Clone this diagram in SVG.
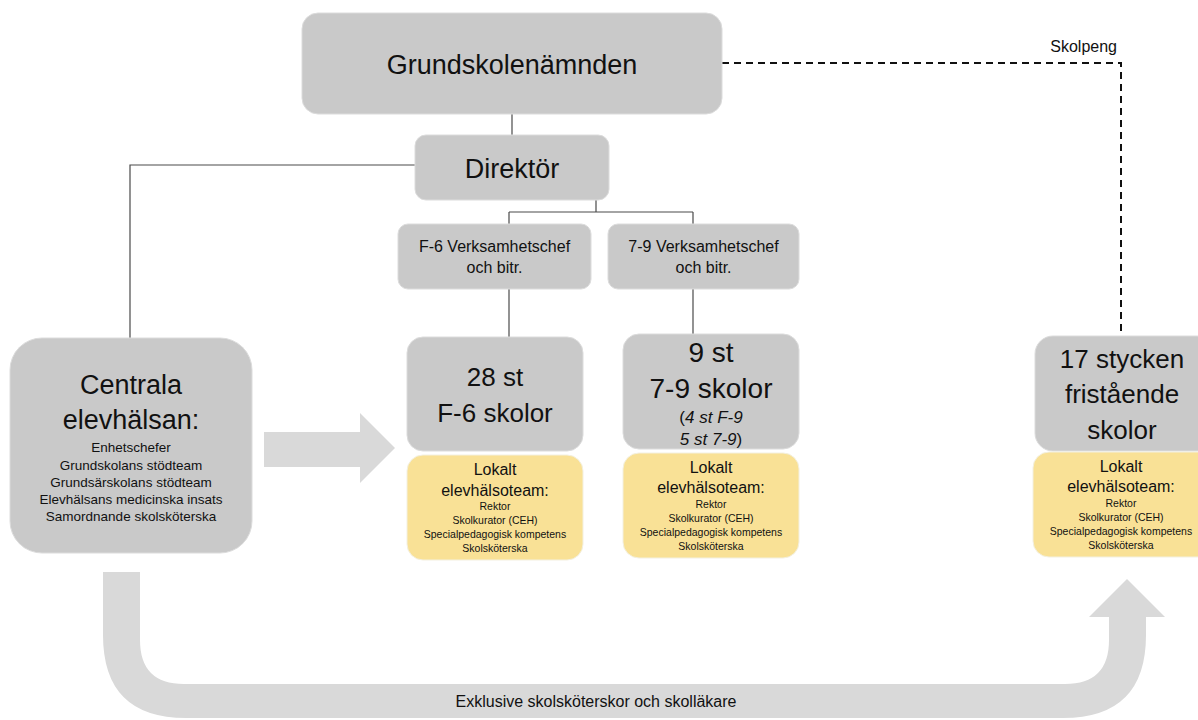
<svg xmlns="http://www.w3.org/2000/svg" width="1198" height="720" viewBox="0 0 1198 720">
<style>
text{font-family:"Liberation Sans",Arial,sans-serif;fill:#111;text-anchor:middle}
.g{fill:#c9c9c9;stroke:#dcdcdc;stroke-width:1}
.y{fill:#f9e196;stroke:#f3f0e0;stroke-width:1}
.ln{stroke:#4a4a4a;stroke-width:1.2;fill:none}
.ds{stroke:#111;stroke-width:2;stroke-dasharray:7,5;fill:none}
.big{fill:#d9d9d9}
.s{font-size:10.5px}
.m{font-size:16px}
</style>
<rect width="1198" height="720" fill="#fff"/>
<g id="connectors">
<path class="ln" d="M512,114 V135"/>
<path class="ln" d="M415,165 H130 V338"/>
<path class="ln" d="M596,200 V212 M509,212 H693 M509,212 V224 M693,212 V224"/>
<path class="ln" d="M509,289 V337"/>
<path class="ln" d="M693,289 V334"/>
<path class="ds" d="M722,63 H1121 V336"/>
<text x="1117" y="52" class="m" style="text-anchor:end">Skolpeng</text>
</g>
<g id="arrows">
<path class="big" d="M264,432 H360 V413 L395,448 L360,483 V467 H264 Z"/>
<path class="big" d="M103,572 V635 Q103,718 186,718 H1063 Q1146,718 1146,635 V617 H1165 L1127,579 L1089,617 H1109 V640 Q1109,684 1065,684 H184 Q140,684 140,640 V572 Z"/>
<text x="596" y="707" class="m">Exklusive skolsköterskor och skolläkare</text>
</g>
<g id="grundskolenamnden">
<rect class="g" x="302" y="13" width="420" height="101" rx="16"/>
<text x="512" y="74" style="font-size:27px">Grundskolenämnden</text>
</g>
<g id="direktor">
<rect class="g" x="415" y="135" width="194" height="65" rx="11"/>
<text x="512" y="178" style="font-size:27px">Direktör</text>
</g>
<g id="f6chef">
<rect class="g" x="398" y="224" width="193" height="65" rx="10"/>
<text x="494.5" y="252" class="m">F-6 Verksamhetschef</text>
<text x="494.5" y="273" class="m">och bitr.</text>
</g>
<g id="chef79">
<rect class="g" x="608" y="224" width="191" height="65" rx="10"/>
<text x="703.5" y="252" class="m">7-9 Verksamhetschef</text>
<text x="703.5" y="273" class="m">och bitr.</text>
</g>
<g id="centrala">
<rect class="g" x="10" y="338" width="242" height="215" rx="32"/>
<text x="131" y="394" style="font-size:27px">Centrala</text>
<text x="131" y="429" style="font-size:27px">elevhälsan:</text>
<text x="131" y="452" style="font-size:13.5px">Enhetschefer</text>
<text x="131" y="469.5" style="font-size:13.5px">Grundskolans stödteam</text>
<text x="131" y="486.5" style="font-size:13.5px">Grundsärskolans stödteam</text>
<text x="131" y="503.5" style="font-size:13.5px">Elevhälsans medicinska insats</text>
<text x="131" y="520.5" style="font-size:13.5px">Samordnande skolsköterska</text>
</g>
<g id="f6skolor">
<rect class="g" x="407" y="337" width="176" height="114" rx="16"/>
<text x="495" y="386" style="font-size:26px">28 st</text>
<text x="495" y="422" style="font-size:26px">F-6 skolor</text>
<rect class="y" x="407" y="455" width="176" height="105" rx="16"/>
<text x="495" y="475" class="m">Lokalt</text>
<text x="495" y="496" class="m">elevhälsoteam:</text>
<text x="495" y="510" class="s">Rektor</text>
<text x="495" y="524" class="s">Skolkurator (CEH)</text>
<text x="495" y="537.5" class="s">Specialpedagogisk kompetens</text>
<text x="495" y="551.5" class="s">Skolsköterska</text>
</g>
<g id="skolor79">
<rect class="g" x="623" y="334" width="176" height="115" rx="16"/>
<text x="711" y="362" style="font-size:28px">9 st</text>
<text x="711" y="398" style="font-size:28px">7-9 skolor</text>
<text x="711" y="423" style="font-size:17px">(<tspan font-style="italic">4 st F-9</tspan></text>
<text x="711" y="445" style="font-size:17px"><tspan font-style="italic">5 st 7-9</tspan>)</text>
<rect class="y" x="623" y="453" width="176" height="105" rx="16"/>
<text x="711" y="473" class="m">Lokalt</text>
<text x="711" y="493" class="m">elevhälsoteam:</text>
<text x="711" y="508" class="s">Rektor</text>
<text x="711" y="522" class="s">Skolkurator (CEH)</text>
<text x="711" y="535.5" class="s">Specialpedagogisk kompetens</text>
<text x="711" y="549.5" class="s">Skolsköterska</text>
</g>
<g id="fristaende">
<rect class="g" x="1035" y="336" width="180" height="115" rx="18"/>
<text x="1122" y="368" style="font-size:26px">17 stycken</text>
<text x="1122" y="403" style="font-size:26px">fristående</text>
<text x="1122" y="439" style="font-size:26px">skolor</text>
<rect class="y" x="1033" y="452" width="182" height="105" rx="16"/>
<text x="1121" y="472" class="m">Lokalt</text>
<text x="1121" y="492" class="m">elevhälsoteam:</text>
<text x="1121" y="507" class="s">Rektor</text>
<text x="1121" y="521" class="s">Skolkurator (CEH)</text>
<text x="1121" y="534.5" class="s">Specialpedagogisk kompetens</text>
<text x="1121" y="548.5" class="s">Skolsköterska</text>
</g>
</svg>
